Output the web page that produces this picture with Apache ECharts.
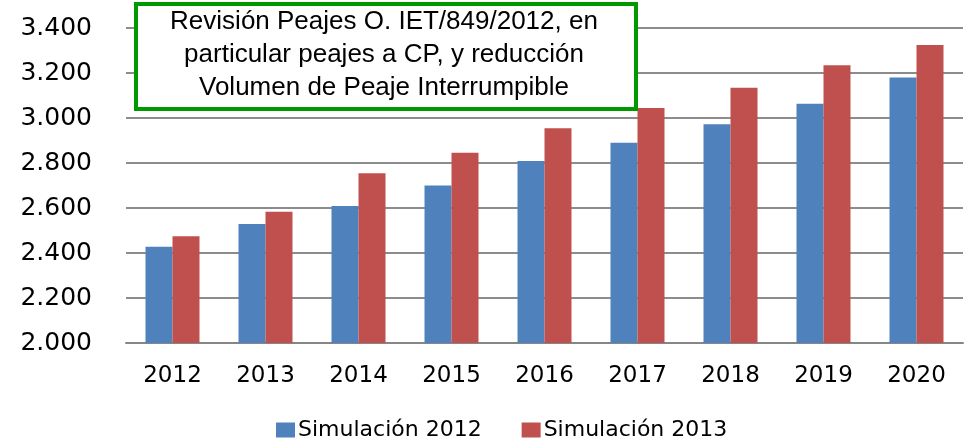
<!DOCTYPE html>
<html>
<head>
<meta charset="utf-8">
<script src="https://cdn.jsdelivr.net/npm/echarts@6/dist/echarts.min.js"></script>
<style>
  html, body { margin: 0; padding: 0; background: #fff; }
  #chart { width: 964px; height: 438px; }
</style>
</head>
<body>
<div id="chart"></div>
<script>
const years = ['2012', '2013', '2014', '2015', '2016', '2017', '2018', '2019', '2020']
const sim2012 = [2428, 2529, 2609, 2700, 2809, 2890, 2972, 3063, 3180]
const sim2013 = [2474, 2583, 2755, 2846, 2954, 3045, 3134, 3234, 3324]
const seriesNames = ['Simulación 2012', 'Simulación 2013']
const noteLines = [
  'Revisión Peajes O. IET/849/2012, en',
  'particular peajes a CP, y reducción',
  'Volumen de Peaje Interrumpible'
]

const chart = echarts.init(document.getElementById('chart'))

const option = {
  animation: false,
  textStyle: { fontFamily: 'DejaVu Sans' },
  grid: { left: 126, right: 1, top: 28, bottom: 95, containLabel: false },
  legend: {
    top: 414,
    left: 271,
    itemWidth: 19,
    itemHeight: 15,
    itemGap: 40,
    icon: 'rect',
    textStyle: { color: '#000', fontSize: 22, fontFamily: 'DejaVu Sans', padding: [0, 0, 0, -2] },
    data: seriesNames
  },
  xAxis: {
    type: 'category',
    data: years,
    axisTick: { show: false },
    axisLine: { lineStyle: { color: '#868686', width: 2 } },
    axisLabel: { color: '#000', fontSize: 23, margin: 22 }
  },
  yAxis: {
    type: 'value',
    min: 2000,
    max: 3400,
    interval: 200,
    axisLine: { show: false },
    axisTick: { show: false },
    axisLabel: {
      color: '#000',
      fontSize: 25,
      margin: 34,
      formatter: v => v.toLocaleString('de-DE')
    },
    splitLine: { lineStyle: { color: '#8c8c8c', width: 2 } }
  },
  series: [
    {
      name: seriesNames[0],
      type: 'bar',
      data: sim2012,
      barWidth: 27,
      barGap: '0%',
      itemStyle: { color: '#4F81BD' }
    },
    {
      name: seriesNames[1],
      type: 'bar',
      data: sim2013,
      barWidth: 27,
      itemStyle: { color: '#C0504D' }
    }
  ],
  graphic: [
    {
      type: 'rect',
      left: 134,
      top: 2,
      shape: { width: 500, height: 105 },
      style: { fill: '#fff', stroke: '#009A00', lineWidth: 4 },
      z: 100
    },
    {
      type: 'text',
      x: 384,
      y: 5,
      style: {
        text: noteLines.join('\n'),
        align: 'center',
        fill: '#000',
        fontSize: 26,
        lineHeight: 33,
        fontFamily: 'Liberation Sans'
      },
      z: 101
    }
  ]
}

chart.setOption(option)
</script>
</body>
</html>
